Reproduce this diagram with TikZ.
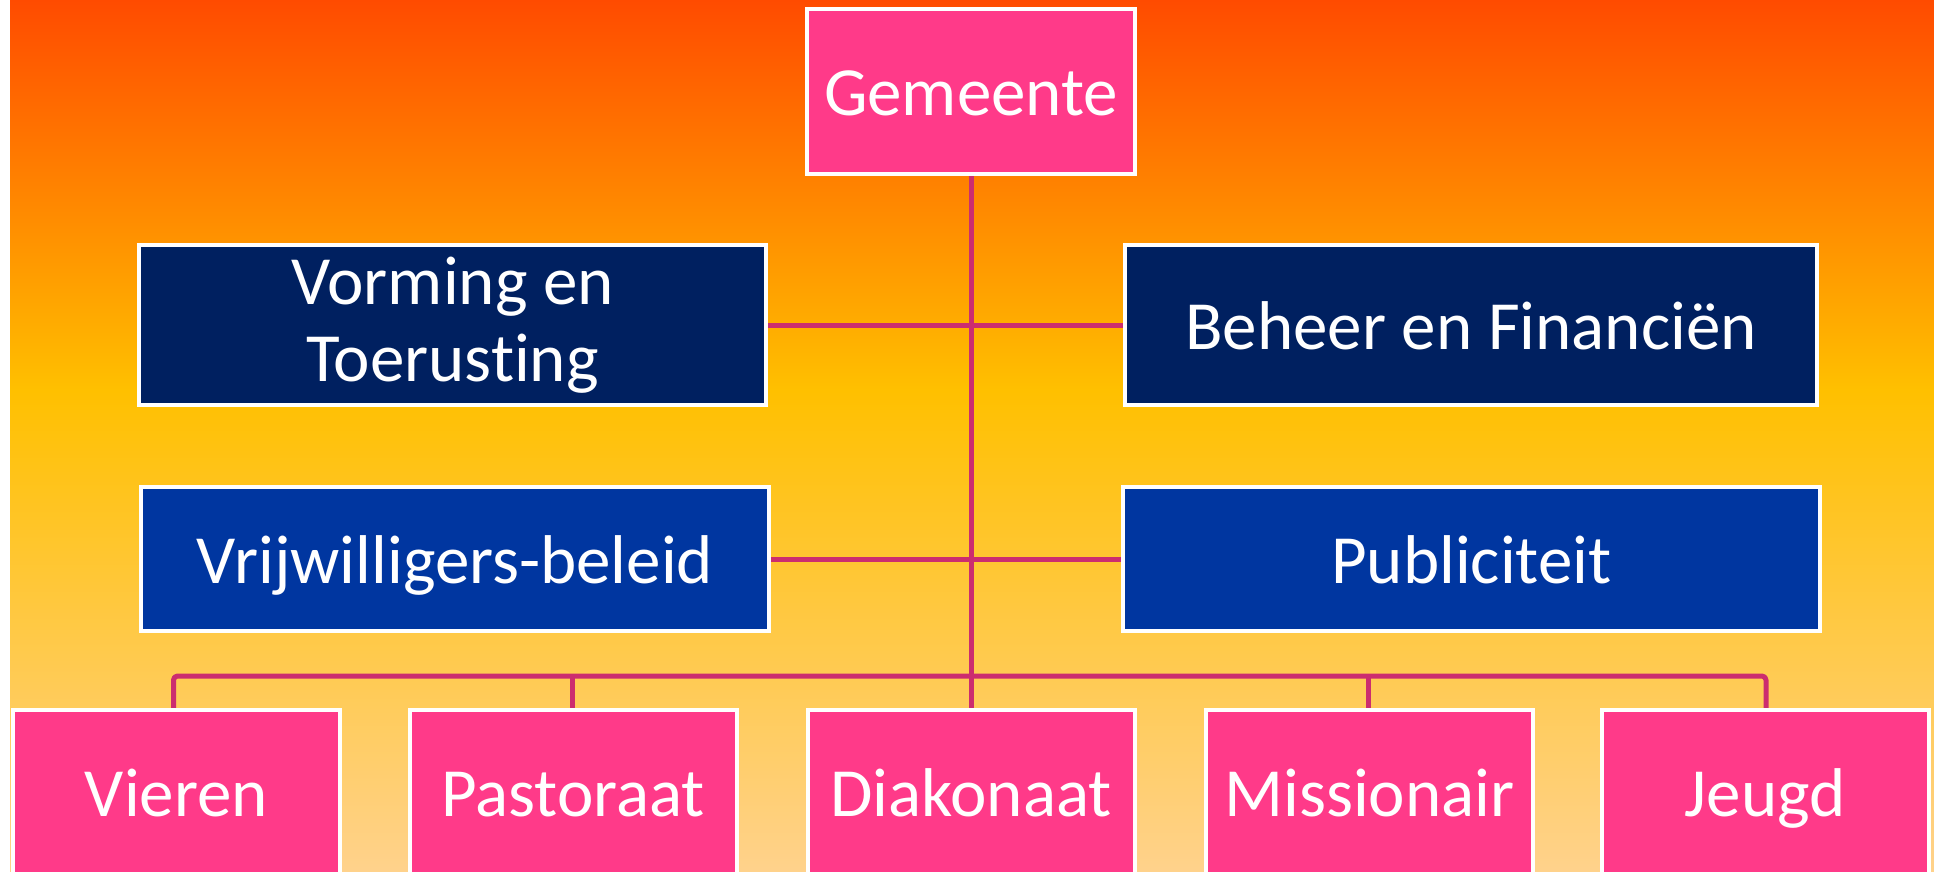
\documentclass[tikz,border=0pt]{standalone}
\usepackage{fontspec}
\setmainfont{Carlito}[Ligatures={NoCommon,NoRequired,NoContextual}]
\definecolor{bgtop}{RGB}{255,75,0}
\definecolor{bgmid}{RGB}{255,192,0}
\definecolor{bgbot}{RGB}{255,210,140}
\definecolor{pinkbox}{RGB}{255,58,137}
\definecolor{navybox}{RGB}{0,32,96}
\definecolor{bluebox}{RGB}{0,54,160}
\definecolor{connc}{RGB}{204,45,111}
\pgfdeclareverticalshading{bgshade}{100bp}{color(0bp)=(bgbot); color(25bp)=(bgbot); color(52.6bp)=(bgmid); color(75bp)=(bgtop); color(100bp)=(bgtop)}
\pgfdeclarelayer{background}
\pgfsetlayers{background,main}
\tikzset{
  orgbox/.style={draw=white, line width=2pt, rectangle, inner sep=0pt, outer sep=0pt,
    text=white, align=center, font=\fontsize{34.5pt}{38.5pt}\selectfont},
  oneline/.style={text height=32pt, text depth=7.5pt},
  pinkstyle/.style={orgbox, oneline, fill=pinkbox},
  navystyle/.style={orgbox, fill=navybox},
  bluestyle/.style={orgbox, oneline, fill=bluebox},
  conn/.style={draw=connc, line width=2.5pt, line join=round},
}
\begin{document}
\begin{tikzpicture}[x=0.5pt,y=-0.5pt]
\useasboundingbox (0,0) rectangle (1934,872);

\node[pinkstyle, minimum width=164pt, minimum height=82.5pt] (gem) at (971,91.5) {Gemeente};
\node[navystyle, minimum width=313.5pt, minimum height=80pt] (vorm) at (452.5,325) {Vorming en\\Toerusting};
\node[navystyle, oneline, minimum width=346pt, minimum height=80pt] (beh) at (1471,325) {Beheer en Financiën};
\node[bluestyle, minimum width=314pt, minimum height=72pt] (vrij) at (455,559) {Vrijwilligers-beleid};
\node[bluestyle, minimum width=348.5pt, minimum height=72pt] (publ) at (1471.5,559) {Publiciteit};

\node[pinkstyle, minimum width=163.5pt, minimum height=82pt] (vier) at (176.5,792) {Vieren};
\node[pinkstyle, minimum width=163.5pt, minimum height=82pt] (past) at (573,792) {Pastoraat};
\node[pinkstyle, minimum width=163.5pt, minimum height=82pt] (diak) at (971,792) {Diakonaat};
\node[pinkstyle, minimum width=163.5pt, minimum height=82pt] (miss) at (1369.5,792) {Missionair};
\node[pinkstyle, minimum width=163.5pt, minimum height=82pt] (jeug) at (1765,792) {Jeugd};

\coordinate (bus) at (971,676);

\begin{pgfonlayer}{background}
  \fill[white] (0,0) rectangle (1934,872);
  \shade[shading=bgshade] (10,0) rectangle (1934,872);
  \draw[conn] (gem.south) -- (diak.north);
  \draw[conn] (vorm.east) -- (vorm.east -| beh.west);
  \draw[conn] (vrij.east) -- (vrij.east -| publ.west);
  \draw[conn, rounded corners=2pt] ([xshift=-1.5pt]vier.north) -- ([xshift=-1.5pt]vier.north |- bus) -- ([xshift=0.5pt]jeug.north |- bus) -- ([xshift=0.5pt]jeug.north);
  \draw[conn] ([xshift=-0.5pt]past.north) -- ([xshift=-0.5pt]past.north |- bus);
  \draw[conn] ([xshift=-0.75pt]miss.north) -- ([xshift=-0.75pt]miss.north |- bus);
\end{pgfonlayer}
\end{tikzpicture}
\end{document}
